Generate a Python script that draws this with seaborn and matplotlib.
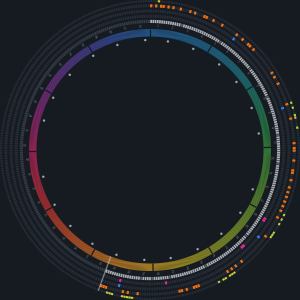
import numpy as np
import matplotlib
matplotlib.use("Agg")
import matplotlib.pyplot as plt
import seaborn as sns
import pandas as pd
from matplotlib.colors import LinearSegmentedColormap

# ---------------- data ----------------
days_in_year = 365
month_starts = [0, 31, 59, 90, 120, 151, 181, 212, 243, 273, 304, 334]
today = 203
orange_days = [0, 2, 4, 5, 7, 9, 12, 16, 18, 22, 23, 26, 30, 37, 40, 43, 44, 46, 58, 60, 63,
               72, 78, 88, 90, 91, 95, 99, 100, 103, 106, 108, 110, 112, 114, 116, 119, 128,
               142, 145, 147, 149, 162, 163, 164, 167, 169, 170, 187, 191, 193, 200, 201, 202]
yellow_days = [3, 72, 74, 77, 78, 82, 117, 119, 121, 125, 126, 127, 147, 148, 149, 151, 152,
               154, 189, 190, 191, 192, 193, 197, 198, 199]
magenta_days = [122, 123, 137, 138, 175, 195]
blue_days = [37, 73, 130, 195]
dim_past_days = [14, 33, 51, 66, 84, 97, 133, 156, 173, 181, 186]
tick_days = [9, 23, 39, 52, 68, 82, 112, 126, 141, 156, 171, 185, 200, 214, 229, 243, 259,
             289, 302, 317, 333, 347, 362]
week_label_days = list(range(3, 365, 7))
week_labels = [str(i + 1) for i in range(len(week_label_days))]

# ---------------- style ----------------
BG = "#161b22"
sns.set_theme(style="dark")
plt.rcParams["font.family"] = ["DejaVu Sans"]

ring_cmap = LinearSegmentedColormap.from_list("ring", [
    (0.00, (35/255, 92/255, 145/255)),
    (0.08, (32/255, 105/255, 145/255)),
    (0.15, (30/255, 115/255, 120/255)),
    (0.22, (40/255, 125/255, 65/255)),
    (0.30, (80/255, 138/255, 48/255)),
    (0.38, (130/255, 150/255, 40/255)),
    (0.44, (160/255, 150/255, 35/255)),
    (0.49, (182/255, 140/255, 32/255)),
    (0.55, (192/255, 120/255, 35/255)),
    (0.61, (192/255, 85/255, 38/255)),
    (0.67, (182/255, 48/255, 48/255)),
    (0.74, (168/255, 35/255, 82/255)),
    (0.81, (130/255, 42/255, 118/255)),
    (0.88, (85/255, 55/255, 136/255)),
    (0.95, (50/255, 75/255, 148/255)),
    (1.00, (35/255, 92/255, 145/255)),
])

def th(d):
    return (np.asarray(d, dtype=float) + 0.5) / days_in_year * 2 * np.pi

fig = plt.figure(figsize=(3, 3), dpi=100, facecolor=BG)
ax = fig.add_axes([0, 0, 1, 1], projection="polar")
ax.set_facecolor(BG)
ax.set_theta_zero_location("N")
ax.set_theta_direction(-1)
ax.set_ylim(0, 150)
ax.axis("off")

step = 2 * np.pi / days_in_year

# colored year ring
n_seg = 720
seg_t = np.arange(n_seg) / n_seg
ax.bar(seg_t * 2 * np.pi + np.pi / n_seg, 7.5, width=2 * np.pi / n_seg * 1.05, bottom=113.5,
       color=ring_cmap(seg_t), alpha=0.85, linewidth=0)
for m in month_starts:
    t = m / days_in_year * 2 * np.pi
    ax.plot([t, t], [113.5, 121], color=BG, lw=0.9, solid_capstyle="butt")

# activity ring (gray)
all_days = np.arange(days_in_year)
gray_cols = []
for d in all_days:
    if d < today:
        gray_cols.append("#5c636d" if d in dim_past_days else "#a9aeb5")
    else:
        gray_cols.append("#353b45")
ax.bar(th(all_days), 3.2, width=step * 0.78, bottom=127, color=gray_cols, linewidth=0)

# event rings
rings = [(132.3, magenta_days, "#e8279c"), (137.5, blue_days, "#2f81f7"),
         (142.7, orange_days, "#f0700f"), (147.9, yellow_days, "#c6d13a")]
for r0, days, col in rings:
    ax.bar(th(all_days), 3.0, width=step * 0.78, bottom=r0, color="#262c35", linewidth=0)
    ax.bar(th(days), 3.0, width=step * 0.9, bottom=r0, color=col, linewidth=0)

# week labels
for d, lab in zip(week_label_days, week_labels):
    t = th(d)
    deg = np.degrees(t)
    rot = -deg
    if 90 < deg < 270:
        rot += 180
    ax.text(t, 124, lab, fontsize=2.2, color="#6e7681", ha="center", va="center",
            rotation=rot, rotation_mode="anchor")

# inner tick dots
dots = pd.DataFrame({"theta": th(tick_days), "r": [110.0] * len(tick_days)})
sns.scatterplot(data=dots, x="theta", y="r", ax=ax, s=3, color="#9da5ae",
                edgecolor="none", legend=False)
ax.set_xlabel(""); ax.set_ylabel("")
ax.axis("off")

# today marker
t = th(today) - step / 2
ax.plot([t, t], [114, 150], color="#c9d1d9", lw=0.9, alpha=0.55)

ax.set_ylim(0, 150)
fig.savefig("out.png", dpi=100, facecolor=BG)
